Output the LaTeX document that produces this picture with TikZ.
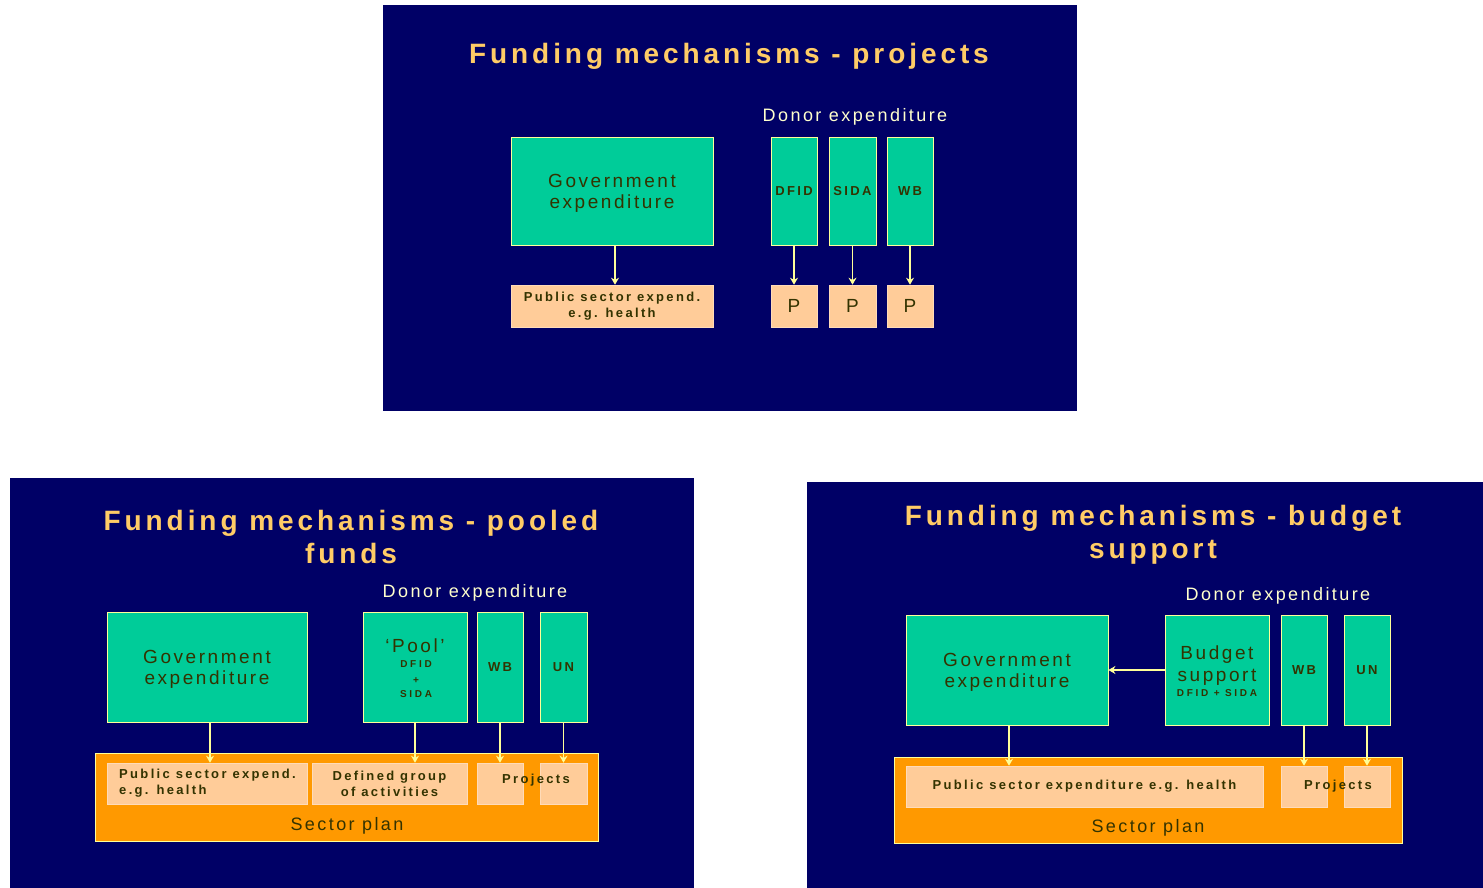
\documentclass[tikz,border=0pt]{standalone}
\usepackage{fontspec}
\setmainfont{Liberation Sans}
\newfontfamily\ttlfont[LetterSpace=14]{Liberation Sans}
\newfontfamily\regfont[LetterSpace=13.5]{Liberation Sans}
\newfontfamily\smbfont[LetterSpace=18]{Liberation Sans}
\newfontfamily\tinyfont[LetterSpace=27]{Liberation Sans}
\usetikzlibrary{arrows.meta}
\definecolor{cnavy}{HTML}{000066}
\definecolor{cgreen}{HTML}{00CC99}
\definecolor{cpeach}{HTML}{FFCC99}
\definecolor{corange}{HTML}{FF9900}
\definecolor{ctitle}{HTML}{FFCC66}
\definecolor{cdonor}{HTML}{FFFFCC}
\definecolor{ctext}{HTML}{333300}
\definecolor{cline}{HTML}{FFFF99}
\tikzset{
  panel/.style={fill=cnavy, draw=none},
  gbox/.style={draw=cline, line width=0.8pt, fill=cgreen, inner sep=0pt, text=ctext, align=center},
  pbox/.style={draw=cpeach!70!white, line width=0.6pt, fill=cpeach, inner sep=0pt, text=ctext, align=center},
  obox/.style={draw=cline, line width=0.8pt, fill=corange, inner sep=0pt},
  ttl/.style={text=ctitle, anchor=base, inner sep=0pt, font={\ttlfont\bfseries\fontsize{28}{33}\selectfont}},
  donor/.style={text=cdonor, anchor=base, inner sep=0pt, font={\regfont\fontsize{18}{21}\selectfont}},
  regtxt/.style={font={\regfont\fontsize{19}{21}\selectfont}},
  bigP/.style={font={\regfont\fontsize{19}{21}\selectfont}},
  smb/.style={font={\smbfont\bfseries\fontsize{13}{16}\selectfont}},
  tiny/.style={font={\tinyfont\bfseries\fontsize{10}{12}\selectfont}, text=ctext, inner sep=0pt},
  plain/.style={text=ctext, inner sep=0pt},
  flow/.style={draw=cline, line width=1.5pt, -{Stealth[length=7pt,width=8pt]}},
}
\begin{document}
\begin{tikzpicture}[x=1pt,y=-1pt]
\useasboundingbox (0,0) rectangle (1483,888);
\fill[white] (0,0) rectangle (1483,888);
%% ---------------- top panel ----------------
\fill[panel] (383,5) rectangle (1077,411);
\node[ttl] (t1) at (729,64) {Funding mechanisms - projects};
\node[donor] (d1) at (855,122) {Donor expenditure};
\node[gbox, minimum width=202, minimum height=108] (gov1) at (612,191) {};
\node[plain, regtxt, align=center] (gov1t) at (612,193) {Government\\expenditure};
\node[pbox, smb, minimum width=202, minimum height=42] (pub1) at (612,306) {Public sector expend.\\e.g. health};
\node[gbox, smb, minimum width=46, minimum height=108] (dfid1) at (794,191) {DFID};
\node[gbox, smb, minimum width=47, minimum height=108] (sida1) at (852.5,191) {SIDA};
\node[gbox, smb, minimum width=46, minimum height=108] (wb1) at (910,191) {WB};
\node[pbox, bigP, minimum width=46, minimum height=42] (p1) at (794,306) {P};
\node[pbox, bigP, minimum width=47, minimum height=42] (p2) at (852.5,306) {P};
\node[pbox, bigP, minimum width=46, minimum height=42] (p3) at (910,306) {P};
\draw[flow] ([xshift=3pt]gov1.south) -- ([xshift=3pt]pub1.north);
\draw[flow] (dfid1.south) -- (p1.north);
\draw[flow] (sida1.south) -- (p2.north);
\draw[flow] (wb1.south) -- (p3.north);
%% ---------------- bottom-left panel ----------------
\fill[panel] (10,478) rectangle (694,888);
\node[ttl] (t2a) at (351,530) {Funding mechanisms - pooled};
\node[ttl] (t2b) at (351,563) {funds};
\node[donor] (d2) at (475,597) {Donor expenditure};
\node[gbox, minimum width=200, minimum height=110] (gov2) at (207,667) {};
\node[plain, regtxt, align=center] (gov2t) at (207,669) {Government\\expenditure};
\node[gbox, minimum width=104, minimum height=110] (pool2) at (415,667) {};
\node[plain, anchor=base, regtxt] (poolt) at (415,652) {‘Pool’};
\node[tiny, anchor=base] (poold) at (416,667) {DFID};
\node[tiny, anchor=base] (poolp) at (416,683) {+};
\node[tiny, anchor=base] (pools) at (416,697) {SIDA};
\node[gbox, smb, minimum width=46, minimum height=110] (wb2) at (500,667) {WB};
\node[gbox, smb, minimum width=47, minimum height=110] (un2) at (563.5,667) {UN};
\node[obox, minimum width=503, minimum height=88] (sec2) at (346.5,797) {};
\node[plain, anchor=base, font={\regfont\fontsize{18}{21}\selectfont}] (sec2t) at (347,830) {Sector plan};
\node[pbox, minimum width=200, minimum height=41] (pub2) at (207,783.5) {};
\node[plain, smb, align=left, anchor=west] (pub2t) at (119,783) {Public sector expend.\\e.g. health};
\node[pbox, smb, minimum width=155, minimum height=41] (def2) at (389.5,783.5) {Defined group\\of activities};
\node[pbox, minimum width=46, minimum height=41] (wbp2) at (500,783.5) {};
\node[pbox, minimum width=47, minimum height=41] (unp2) at (563.5,783.5) {};
\node[plain, smb] (proj2) at (536,780) {Projects};
\draw[flow] ([xshift=3pt]gov2.south) -- ([xshift=3pt]pub2.north);
\draw[flow] (pool2.south) -- (pool2.south |- def2.north);
\draw[flow] (wb2.south) -- (wbp2.north);
\draw[flow] (un2.south) -- (unp2.north);
%% ---------------- bottom-right panel ----------------
\fill[panel] (807,482) rectangle (1483,888);
\node[ttl] (t3a) at (1153,525) {Funding mechanisms - budget};
\node[ttl] (t3b) at (1153,558) {support};
\node[donor] (d3) at (1278,600) {Donor expenditure};
\node[gbox, minimum width=202, minimum height=110] (gov3) at (1007,670) {};
\node[plain, regtxt, align=center] (gov3t) at (1007,672) {Government\\expenditure};
\node[gbox, minimum width=104, minimum height=110] (bud3) at (1217,670) {};
\node[plain, anchor=base, regtxt] (budt) at (1217,659) {Budget};
\node[plain, anchor=base, regtxt] (buds) at (1217,681) {support};
\node[tiny, anchor=base] (budd) at (1217,696) {DFID + SIDA};
\node[gbox, smb, minimum width=46, minimum height=110] (wb3) at (1304,670) {WB};
\node[gbox, smb, minimum width=46, minimum height=110] (un3) at (1367,670) {UN};
\node[obox, minimum width=508, minimum height=86] (sec3) at (1148,800) {};
\node[plain, anchor=base, font={\regfont\fontsize{18}{21}\selectfont}] (sec3t) at (1148,832) {Sector plan};
\node[pbox, smb, minimum width=357, minimum height=41] (pub3) at (1084.5,786.5) {Public sector expenditure e.g. health};
\node[pbox, minimum width=46, minimum height=41] (wbp3) at (1304,786.5) {};
\node[pbox, minimum width=46, minimum height=41] (unp3) at (1367,786.5) {};
\node[plain, smb] (proj3) at (1338,786) {Projects};
\draw[flow] (bud3.west) -- (gov3.east);
\draw[flow] ([xshift=2pt]gov3.south) -- ([xshift=2pt]gov3.south |- pub3.north);
\draw[flow] (wb3.south) -- (wbp3.north);
\draw[flow] (un3.south) -- (unp3.north);
\end{tikzpicture}
\end{document}
